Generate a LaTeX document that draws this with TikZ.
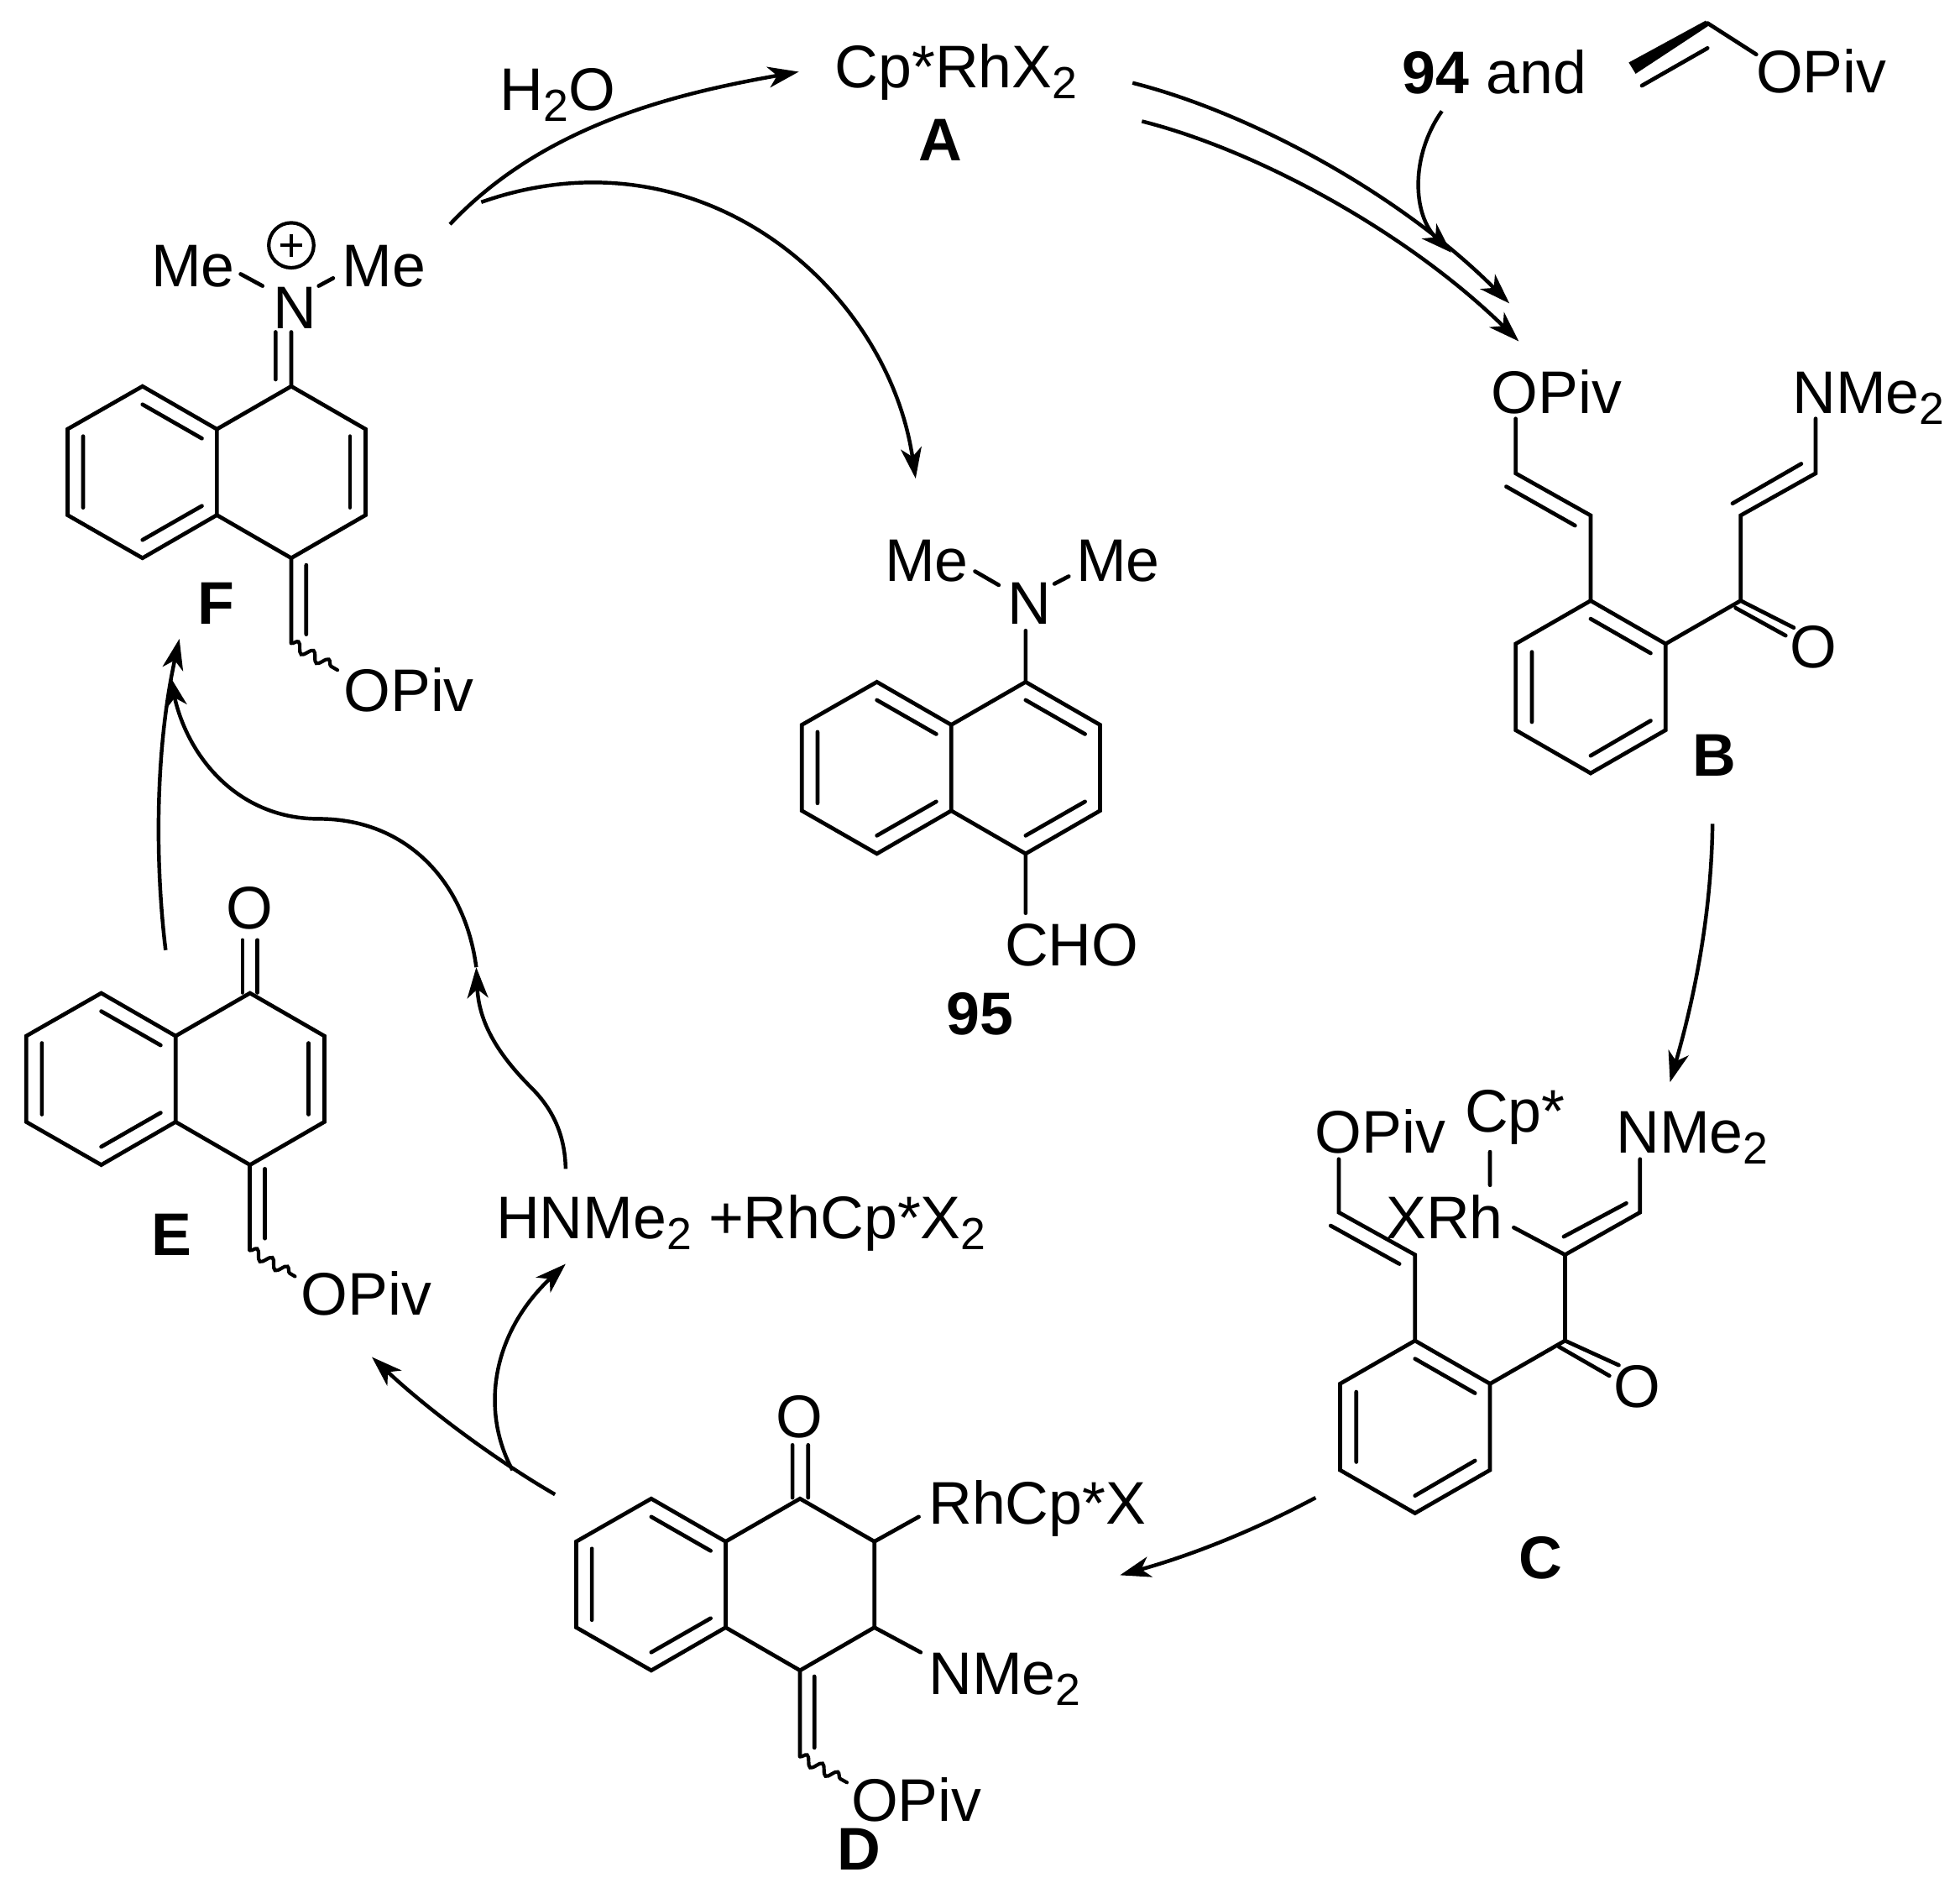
\documentclass[tikz,border=0pt]{standalone}
\usepackage{fontspec}
\setmainfont{Liberation Sans}
\usetikzlibrary{arrows.meta,decorations.pathmorphing}
\newcommand\subs[1]{\raisebox{-5pt}{\fontsize{20.5}{22}\selectfont #1}}
\tikzset{
  lab/.style={anchor=base west,inner sep=0pt,outer sep=0pt,xshift=-0.6pt,yshift=-1.1pt,font=\fontsize{27.4}{30}\selectfont},
  blab/.style={lab,font=\fontsize{27.4}{30}\selectfont\bfseries},
  bond/.style={line width=1.8pt,line cap=round,line join=miter},
  rxn/.style={line width=1.7pt,-{Stealth[length=14pt,width=9.5pt,inset=4pt]}},
  wavy/.style={line width=1.6pt,line cap=round,decorate,decoration={snake,segment length=8pt,amplitude=2.2pt}}
}
% naphthalene skeleton: prefix, x and y of top vertex of the right ring
\newcommand\naph[3]{%
  \begin{scope}[shift={(#2,#3)}]
    \coordinate (#1a) at (0,0);
    \coordinate (#1b) at (59.5,34.3);
    \coordinate (#1c) at (59.5,103);
    \coordinate (#1d) at (0,137.4);
    \coordinate (#1e) at (-59.5,103);
    \coordinate (#1f) at (-59.5,34.3);
    \coordinate (#1g) at (-119,0);
    \coordinate (#1h) at (-179,34.3);
    \coordinate (#1i) at (-179,103);
    \coordinate (#1j) at (-119,137.4);
    \coordinate (#1k) at (-119,14.5);
    \coordinate (#1l) at (-71.5,41.7);
    \coordinate (#1m) at (-166.5,40);
    \coordinate (#1n) at (-166.5,97);
    \coordinate (#1o) at (-119,122.9);
    \coordinate (#1p) at (-71.5,95.7);
    \coordinate (#1q) at (47,40);
    \coordinate (#1r) at (47,97);
    \coordinate (#1s) at (0,14.5);
    \coordinate (#1t) at (47.5,41.7);
    \coordinate (#1u) at (47.5,95.7);
    \coordinate (#1v) at (0,122.9);
  \end{scope}
  \draw[bond] (#1a)--(#1b)--(#1c)--(#1d)--(#1e)--(#1f)--cycle;
  \draw[bond] (#1f)--(#1g)--(#1h)--(#1i)--(#1j)--(#1e);
  \draw[bond] (#1k)--(#1l) (#1m)--(#1n) (#1o)--(#1p);
}
% benzene ring: prefix, x and y of top vertex
\newcommand\benz[3]{%
  \begin{scope}[shift={(#2,#3)}]
    \coordinate (#1a) at (0,0);
    \coordinate (#1b) at (60,34.5);
    \coordinate (#1c) at (60,103.5);
    \coordinate (#1d) at (0,138);
    \coordinate (#1e) at (-60,103.5);
    \coordinate (#1f) at (-60,34.5);
    \coordinate (#1k) at (0,14.5);
    \coordinate (#1l) at (48,42);
    \coordinate (#1m) at (-47,41);
    \coordinate (#1n) at (-47,97);
    \coordinate (#1o) at (48,96);
    \coordinate (#1p) at (0,124);
  \end{scope}
  \draw[bond] (#1a)--(#1b)--(#1c)--(#1d)--(#1e)--(#1f)--cycle;
  \draw[bond] (#1k)--(#1l) (#1m)--(#1n) (#1o)--(#1p);
}
\begin{document}
\begin{tikzpicture}[x=0.02cm,y=-0.02cm]
\useasboundingbox (0,0) rectangle (1568,1509.6);
\fill[white] (0,0) rectangle (1568,1509.6);

% ---------- A and the top labels
\node[lab] (cprh) at (669,68.4) {Cp*RhX\subs{2}};
\node[blab] (lA) at (736,126.8) {A};
\node[lab] (water) at (401,86.1) {H\subs{2}O};
\node[lab] (reag) at (1123,73) {\textbf{94} and};
\node[lab] (reagO) at (1406,72) {OPiv};
\coordinate (va) at (1366,18.5);
\coordinate (vb) at (1405,43.5);
\coordinate (vc) at (1313.5,68.5);
\coordinate (vd) at (1366,38.5);
\coordinate (ve) at (1303,50);
\coordinate (vf) at (1308.5,59);
\coordinate (vg) at (1367,20.5);
\coordinate (vh) at (1364.5,16.5);
\fill (ve)--(vf)--(vg)--(vh)--cycle;
\draw[bond] (va)--(vb) (vc)--(vd);

% ---------- F
\naph{F}{233}{309}
\draw[bond] (Fq)--(Fr);
\node[lab] (FN) at (219.5,260.8) {N};
\node[lab] (FMeL) at (122,227.3) {Me};
\node[lab] (FMeR) at (275,227.3) {Me};
\node[lab] (FO) at (276,567) {OPiv};
\node[blab] (lF) at (159,497.6) {F};
\node[draw,circle,line width=1.6pt,minimum size=0.72cm,inner sep=0pt] (Fplus) at (233,196.2) {};
\draw[line width=1.6pt] (Fplus.center)+(-9,0) -- +(9,0) (Fplus.center)+(0,-9) -- +(0,9);
\coordinate (F1) at (233,265.6);
\coordinate (F2) at (220.5,265.6);
\coordinate (F3) at (220.5,303.5);
\coordinate (F4) at (192.5,219.2);
\coordinate (F5) at (210,228.7);
\coordinate (F6) at (255,228.7);
\coordinate (F7) at (266.5,222.5);
\coordinate (F8) at (233,514.4);
\coordinate (F9) at (245,452);
\coordinate (F10) at (245,507.4);
\coordinate (F11) at (270,536);
\draw[bond] (F1)--(Fa) (F2)--(F3) (F4)--(F5) (F6)--(F7) (Fd)--(F8) (F9)--(F10);
\draw[wavy] (F8)--(F11);

% ---------- 95
\naph{P}{820.5}{545.5}
\draw[bond] (Ps)--(Pt) (Pu)--(Pv);
\node[lab] (PN) at (807,497.3) {N};
\node[lab] (PMeL) at (709,463) {Me};
\node[lab] (PMeR) at (862,463) {Me};
\node[lab] (PCHO) at (805,770.4) {CHO};
\node[blab] (l95) at (758,825.6) {95};
\coordinate (P1) at (780,457);
\coordinate (P2) at (799,468);
\coordinate (P3) at (843.5,467);
\coordinate (P4) at (855,461);
\coordinate (P5) at (820.5,504.5);
\coordinate (P6) at (820.5,730.4);
\draw[bond] (P1)--(P2) (P3)--(P4) (P5)--(Pa) (Pd)--(P6);

% ---------- B
\benz{B}{1272.5}{480.5}
\coordinate (B1) at (1272.5,412.3);
\coordinate (B2) at (1212.5,378.6);
\coordinate (B3) at (1260,420.4);
\coordinate (B4) at (1205,389.2);
\coordinate (B5) at (1212.5,334.9);
\coordinate (B6) at (1392.5,480.5);
\coordinate (B7) at (1392.5,412.3);
\coordinate (B8) at (1452.5,378.6);
\coordinate (B9) at (1386,402.7);
\coordinate (B10) at (1441,371);
\coordinate (B11) at (1452.5,334.9);
\coordinate (B12) at (1435,502.1);
\coordinate (B13) at (1388.5,486.3);
\coordinate (B14) at (1428.5,508.4);
\draw[bond] (Ba)--(B1)--(B2)--(B5) (B3)--(B4);
\draw[bond] (Bb)--(B6)--(B7)--(B8)--(B11) (B9)--(B10) (B6)--(B12) (B13)--(B14);
\node[lab] (BO1) at (1194,329) {OPiv};
\node[lab] (BN) at (1435,329) {NMe\subs{2}};
\node[lab] (BO2) at (1433,532.4) {O};
\node[blab] (lB) at (1355,618.9) {B};

% ---------- C
\benz{C}{1132}{1072.4}
\coordinate (C1) at (1132,1003.7);
\coordinate (C2) at (1071,969.8);
\coordinate (C3) at (1119.5,1011);
\coordinate (C4) at (1064.5,980.4);
\coordinate (C5) at (1071,927.2);
\coordinate (C6) at (1252,1072.4);
\coordinate (C7) at (1252,1003.7);
\coordinate (C8) at (1312,969.8);
\coordinate (C9) at (1251,989.2);
\coordinate (C10) at (1301,962.5);
\coordinate (C11) at (1312,927.2);
\coordinate (C12) at (1211,981.9);
\coordinate (C13) at (1192,921.4);
\coordinate (C14) at (1192,948);
\coordinate (C15) at (1295,1092);
\coordinate (C16) at (1247,1077.2);
\coordinate (C17) at (1287.5,1100.5);
\draw[bond] (Ca)--(C1)--(C2)--(C5) (C3)--(C4);
\draw[bond] (Cb)--(C6)--(C7)--(C8)--(C11) (C9)--(C10) (C12)--(C7) (C13)--(C14) (C6)--(C15) (C16)--(C17);
\node[lab] (CO1) at (1053,920.4) {OPiv};
\node[lab] (CN) at (1294,920.4) {NMe\subs{2}};
\node[lab] (CX) at (1110,989.2) {XRh};
\node[lab] (CCp) at (1173,903.5) {Cp*};
\node[lab] (CO2) at (1292,1123.7) {O};
\node[blab] (lC) at (1216,1261) {C};

% ---------- D
\naph{D}{640}{1198.8}
\coordinate (D1) at (634,1155.9);
\coordinate (D2) at (634,1198);
\coordinate (D3) at (646.5,1155.9);
\coordinate (D4) at (646.5,1198);
\coordinate (D5) at (735,1213.3);
\coordinate (D6) at (736.5,1321.7);
\coordinate (D7) at (640,1405);
\coordinate (D8) at (651.5,1341);
\coordinate (D9) at (651.5,1398);
\coordinate (D10) at (677.5,1425.8);
\draw[bond] (D1)--(D2) (D3)--(D4) (Db)--(D5) (Dc)--(D6) (Dd)--(D7) (D8)--(D9);
\draw[wavy] (D7)--(D10);
\node[lab] (DO) at (622,1148) {O};
\node[lab] (DRh) at (744,1217) {RhCp*X};
\node[lab] (DN) at (744,1353.5) {NMe\subs{2}};
\node[lab] (DO2) at (682,1454.8) {OPiv};
\node[blab] (lD) at (671,1494) {D};

% ---------- E
\naph{E}{200}{794.4}
\draw[bond] (Eq)--(Er);
\coordinate (E1) at (194,752);
\coordinate (E2) at (194,794);
\coordinate (E3) at (206,752);
\coordinate (E4) at (206,794);
\coordinate (E5) at (200,1000);
\coordinate (E6) at (212,935);
\coordinate (E7) at (212,990.6);
\coordinate (E8) at (236,1021);
\draw[bond] (E1)--(E2) (E3)--(E4) (Ed)--(E5) (E6)--(E7);
\draw[wavy] (E5)--(E8);
\node[lab] (EO) at (182,741) {O};
\node[lab] (EO2) at (242,1049.9) {OPiv};
\node[blab] (lE) at (122,1002.6) {E};

% ---------- HNMe2
\node[lab] (amine) at (398,989) {HNMe\subs{2} +RhCp*X\subs{2}};

% ---------- reaction arrows
\coordinate (a1s) at (906,66.3);   \coordinate (a1t) at (1207.5,242.7);
\coordinate (a2s) at (913.5,97);   \coordinate (a2t) at (1215,273);
\coordinate (a3s) at (1153.5,88.9);\coordinate (a3t) at (1161,202);
\coordinate (a4s) at (1370,659);   \coordinate (a4t) at (1336,865.7);
\coordinate (a5s) at (1052.5,1198);\coordinate (a5t) at (896,1260);
\coordinate (a6s) at (444,1195.4); \coordinate (a6t) at (297.5,1085.5);
\coordinate (a7s) at (410,1176);   \coordinate (a7t) at (452.5,1011);
\coordinate (a8s) at (452.5,935);  \coordinate (a8m) at (425,870);
\coordinate (a8t) at (381,773.7);
\coordinate (a9s) at (381,773.7);  \coordinate (a9m) at (255,655);
\coordinate (a9t) at (136,541);
\coordinate (a10s) at (132.5,760); \coordinate (a10t) at (143.5,511);
\coordinate (a11s) at (360,179.4); \coordinate (a11t) at (639,57.4);
\coordinate (a12s) at (385,161.7); \coordinate (a12t) at (732.5,382.8);

\draw[rxn] (a1s) .. controls (1000,90) and (1120,155) .. (a1t);
\draw[rxn] (a2s) .. controls (1005,120) and (1125,185) .. (a2t);
\draw[rxn] (a3s) .. controls (1128,125) and (1130,172) .. (a3t);
\draw[rxn] (a4s) .. controls (1369,740) and (1352,810) .. (a4t);
\draw[rxn] (a5s) .. controls (1000,1226) and (950,1245) .. (a5t);
\draw[rxn] (a6s) .. controls (400,1170) and (345,1130) .. (a6t);
\draw[rxn] (a7s) .. controls (385,1130) and (392,1068) .. (a7t);
\draw[rxn] (a8s) .. controls (452,905) and (440,885) .. (a8m)
               .. controls (395,840) and (383,815) .. (a8t);
\draw[rxn] (a9s) .. controls (372,705) and (325,655) .. (a9m)
               .. controls (190,655) and (150,605) .. (a9t);
\draw[rxn] (a10s) .. controls (124,690) and (124,600) .. (a10t);
\draw[rxn] (a11s) .. controls (435,100) and (540,75) .. (a11t);
\draw[rxn] (a12s) .. controls (560,100) and (710,230) .. (a12t);
\end{tikzpicture}
\end{document}
